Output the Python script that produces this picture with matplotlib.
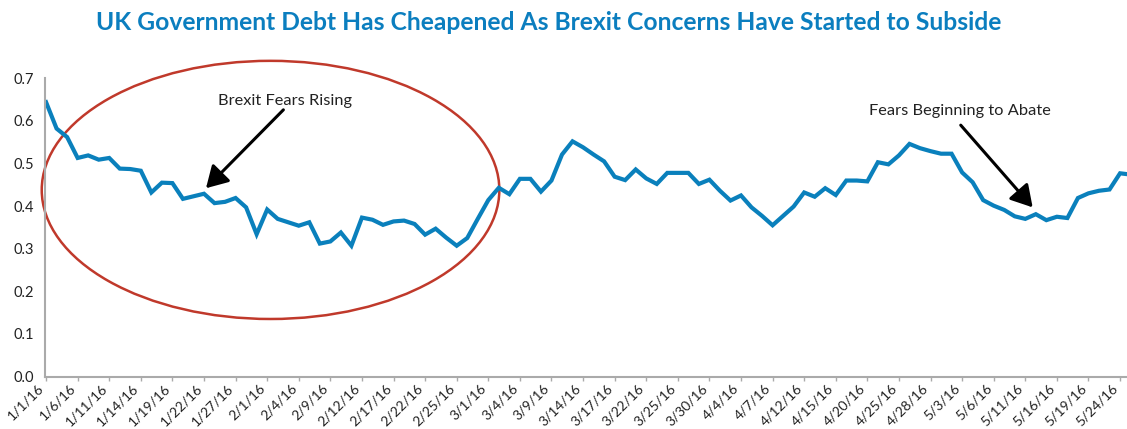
import matplotlib
matplotlib.use('Agg')
import matplotlib.pyplot as plt
from matplotlib.patches import Ellipse

plt.rcParams['font.family'] = ['Lato', 'DejaVu Sans']

# values, one per business day starting 1/1/16
spread = [
	0.644, 0.582, 0.562, 0.513, 0.519, 0.509, 0.513, 0.488, 0.487, 0.483,
	0.432, 0.455, 0.454, 0.417, 0.423, 0.429, 0.407, 0.410, 0.419, 0.397,
	0.334, 0.392, 0.370, 0.362, 0.354, 0.362, 0.312, 0.317, 0.338, 0.307,
	0.373, 0.368, 0.356, 0.364, 0.366, 0.358, 0.333, 0.347, 0.326, 0.307,
	0.325, 0.370, 0.414, 0.443, 0.428, 0.464, 0.464, 0.434, 0.460, 0.521,
	0.552, 0.538, 0.521, 0.505, 0.469, 0.461, 0.486, 0.465, 0.452, 0.478,
	0.478, 0.478, 0.452, 0.462, 0.436, 0.413, 0.425, 0.397, 0.377, 0.355,
	0.377, 0.399, 0.432, 0.422, 0.442, 0.426, 0.460, 0.460, 0.458, 0.503,
	0.498, 0.519, 0.546, 0.536, 0.529, 0.523, 0.523, 0.479, 0.456, 0.414,
	0.401, 0.391, 0.376, 0.370, 0.381, 0.367, 0.375, 0.372, 0.419, 0.430,
	0.436, 0.439, 0.477, 0.474,
]
# every third business day gets a label
tickLabels = [
	'1/1/16', '1/6/16', '1/11/16', '1/14/16', '1/19/16', '1/22/16', '1/27/16',
	'2/1/16', '2/4/16', '2/9/16', '2/12/16', '2/17/16', '2/22/16', '2/25/16',
	'3/1/16', '3/4/16', '3/9/16', '3/14/16', '3/17/16', '3/22/16', '3/25/16',
	'3/30/16', '4/4/16', '4/7/16', '4/12/16', '4/15/16', '4/20/16', '4/25/16',
	'4/28/16', '5/3/16', '5/6/16', '5/11/16', '5/16/16', '5/19/16', '5/24/16',
]
yTicks = [0.0, 0.1, 0.2, 0.3, 0.4, 0.5, 0.6, 0.7]

blue = '#0A80BC'
red = '#C0392B'
grey = '#AAAAAA'

fig = plt.figure(figsize=(11.27, 4.29), dpi=100)
ax = fig.add_axes([45 / 1127, 52.5 / 429, 1 - 45 / 1127, 298.2 / 429])

xs = list(range(len(spread)))
ax.plot(xs, spread, color=blue, linewidth=3.0, solid_joinstyle='miter')

ax.set_xlim(-0.1, 102.66)
ax.set_ylim(0, 0.7)

ax.set_xticks(xs[::3][:len(tickLabels)])
ax.set_xticklabels(tickLabels, rotation=45, ha='right', fontsize=10, color='#222222')
ax.set_yticks(yTicks)
ax.set_yticklabels(['%.1f' % v for v in yTicks], fontsize=10.5, color='#222222')
ax.tick_params(axis='y', length=0, pad=8)
ax.tick_params(axis='x', length=3, width=1, color=grey, pad=1)

for side in ['top', 'right']:
	ax.spines[side].set_visible(False)
for side in ['left', 'bottom']:
	ax.spines[side].set_color(grey)
	ax.spines[side].set_linewidth(1.5)

# red circle round the Brexit-fear period
ax.add_patch(Ellipse((21.32, 0.438), 43.46, 0.606, fill=False, edgecolor=red,
	linewidth=1.8, clip_on=False))

arrowStyle = dict(arrowstyle='-|>,head_length=0.65,head_width=0.38', mutation_scale=20,
	color='black', linewidth=2.2, shrinkA=0, shrinkB=0)

ax.text(22.74, 0.647, 'Brexit Fears Rising', ha='center', va='center', fontsize=11.8, color='#222222')
ax.annotate('', xy=(15.19, 0.442), xytext=(22.54, 0.626), arrowprops=arrowStyle)

ax.text(86.8, 0.623, 'Fears Beginning to Abate', ha='center', va='center', fontsize=11.8, color='#222222')
ax.annotate('', xy=(93.7, 0.397), xytext=(86.87, 0.590), arrowprops=arrowStyle)

fig.text(549 / 1127, 1 - 22 / 429, 'UK Government Debt Has Cheapened As Brexit Concerns Have Started to Subside',
	ha='center', va='center', fontsize=17.7, fontweight='bold', color='#0B7EBF')

fig.savefig('out.png', dpi=100)
